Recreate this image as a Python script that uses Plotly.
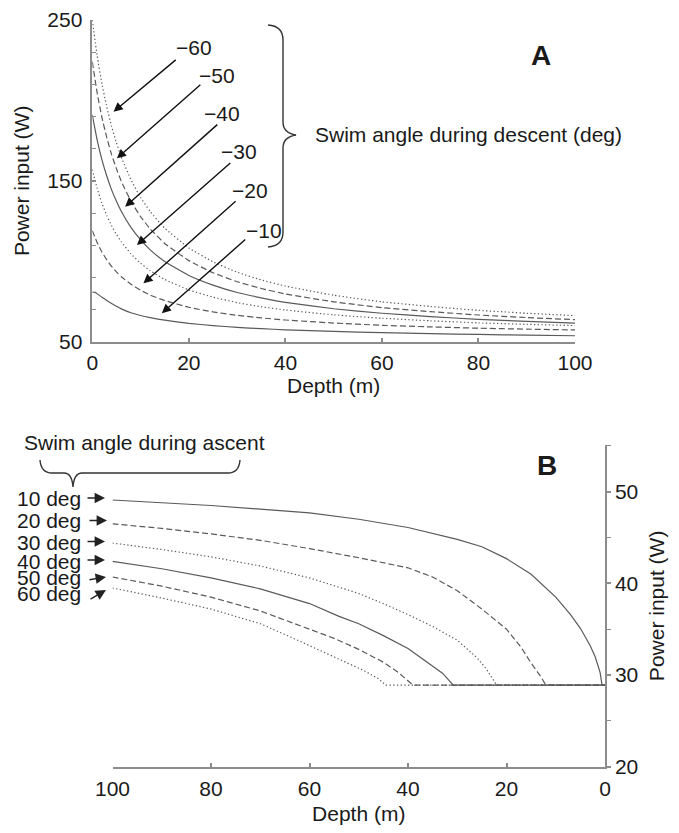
import plotly.graph_objects as go

# ---------------- Panel A data (descent) ----------------
depth_a = [0, 1, 2, 3, 4, 5, 6, 8, 10, 12, 15, 20, 25, 30, 35, 40, 50, 60, 70, 80, 90, 100]
power_m60 = [250, 227.9, 210.3, 196.0, 183.8, 173.7, 164.9, 150.7, 139.7, 130.9, 120.6, 108.3, 99.7, 93.2, 88.4, 84.6, 78.9, 74.8, 71.9, 69.5, 67.7, 66.2]
power_m50 = [224, 204.8, 189.4, 176.9, 166.3, 157.5, 149.8, 137.4, 127.8, 120.1, 111.1, 100.4, 92.9, 87.3, 83.1, 79.7, 74.8, 71.2, 68.7, 66.6, 65.0, 63.7]
power_m40 = [191, 175.5, 163.0, 153.0, 144.4, 137.3, 131.1, 121.1, 113.4, 107.1, 99.9, 91.2, 85.2, 80.6, 77.3, 74.5, 70.5, 67.7, 65.6, 63.9, 62.6, 61.6]
power_m30 = [157, 145.4, 136.0, 128.5, 122.1, 116.7, 112.1, 104.6, 98.8, 94.1, 88.7, 82.2, 77.7, 74.3, 71.7, 69.7, 66.7, 64.6, 63.0, 61.7, 60.8, 60.0]
power_m20 = [119, 111.6, 105.7, 100.9, 96.8, 93.4, 90.4, 85.7, 82.0, 79.0, 75.6, 71.4, 68.5, 66.4, 64.8, 63.5, 61.6, 60.2, 59.2, 58.4, 57.8, 57.3]
depth_a10 = [0, 0.6, 1, 2, 3, 4, 5, 6, 8, 10, 12, 15, 20, 25, 30, 35, 40, 50, 60, 70, 80, 90, 100]
power_m10 = [80.7, 80.7, 79.8, 77.6, 75.6, 73.8, 72.0, 70.4, 68.0, 66.3, 65.0, 63.4, 61.4, 60.0, 58.9, 58.1, 57.4, 56.4, 55.6, 55.0, 54.5, 54.1, 53.7]
descent_labels = ["\u221260", "\u221250", "\u221240", "\u221230", "\u221220", "\u221210"]

# ---------------- Panel B data (ascent) ----------------
depth_b10 = [100, 90, 80, 70, 60, 50, 40, 30, 25, 20, 15, 10, 7, 5, 3, 2, 1, 0.6, 0]
power_b10 = [49.1, 48.8, 48.5, 48.1, 47.7, 47.0, 46.1, 44.8, 44.0, 42.7, 41.0, 38.5, 36.6, 35.1, 33.2, 32.0, 30.3, 28.9, 28.9]
depth_b20 = [100, 90, 80, 70, 60, 50, 40, 35, 30, 25, 20, 17, 15, 13, 12, 0]
power_b20 = [46.5, 46.0, 45.4, 44.7, 43.8, 42.8, 41.7, 40.7, 39.2, 37.2, 35.0, 33.0, 31.3, 29.8, 28.9, 28.9]
depth_b30 = [100, 90, 80, 70, 60, 50, 45, 40, 35, 30, 26, 24, 22, 0]
power_b30 = [44.4, 43.7, 42.9, 41.9, 40.6, 38.9, 37.8, 36.6, 35.3, 33.8, 31.9, 30.6, 28.9, 28.9]
depth_b40 = [100, 90, 80, 70, 60, 54, 50, 45, 40, 36, 33, 30.8, 0]
power_b40 = [42.4, 41.6, 40.6, 39.4, 37.8, 36.4, 35.6, 34.3, 32.9, 31.4, 30.2, 28.9, 28.9]
depth_b50 = [100, 90, 80, 70, 62, 55, 50, 45, 42, 39, 0]
power_b50 = [40.7, 39.7, 38.5, 37.0, 35.4, 34.0, 32.8, 31.4, 30.3, 28.9, 28.9]
depth_b60 = [100, 90, 80, 70, 62, 54, 49, 46, 44.5, 0]
power_b60 = [39.5, 38.4, 37.2, 35.6, 33.7, 31.7, 30.5, 29.6, 28.9, 28.9]
ascent_labels = ["10 deg", "20 deg", "30 deg", "40 deg", "50 deg", "60 deg"]

W, H = 679, 833
FONT = "Liberation Sans, Arial, sans-serif"
FS = 21
LINE_C = "#5a5a5a"
AX_C = "#8c8c8c"
TXT_C = "#1a1a1a"
DOT = "1.3px,2.4px"
DASH = "6px,3px"


def px(x, y):
    return x / W, 1 - y / H


fig = go.Figure()

a_series = [
    (depth_a, power_m60, DOT),
    (depth_a, power_m50, DASH),
    (depth_a, power_m40, "solid"),
    (depth_a, power_m30, DOT),
    (depth_a, power_m20, DASH),
    (depth_a10, power_m10, "solid"),
]
for (xs, ys, dash), name in zip(a_series, descent_labels):
    fig.add_trace(go.Scatter(x=xs, y=ys, mode="lines", name=name, xaxis="x", yaxis="y",
                             line=dict(color=LINE_C, width=1.2, dash=dash, shape="spline", smoothing=0.4),
                             showlegend=False, hoverinfo="skip"))

b_series = [
    (depth_b10, power_b10, "solid"),
    (depth_b20, power_b20, DASH),
    (depth_b30, power_b30, DOT),
    (depth_b40, power_b40, "solid"),
    (depth_b50, power_b50, DASH),
    (depth_b60, power_b60, DOT),
]
for (xs, ys, dash), name in zip(b_series, ascent_labels):
    fig.add_trace(go.Scatter(x=xs, y=ys, mode="lines", name=name, xaxis="x2", yaxis="y2",
                             line=dict(color=LINE_C, width=1.2, dash=dash),
                             showlegend=False, hoverinfo="skip"))

axis_common = dict(showgrid=False, zeroline=False, showline=True, linecolor=AX_C, linewidth=1.5,
                   tickcolor=AX_C, tickwidth=1.5, tickfont=dict(family=FONT, size=FS, color=TXT_C),
                   automargin=False)

fig.update_layout(
    width=W, height=H, margin=dict(l=0, r=0, t=0, b=0),
    paper_bgcolor="white", plot_bgcolor="white",
    font=dict(family=FONT, color=TXT_C, size=FS),
    xaxis=dict(domain=[92.3 / W, 575 / W], range=[0, 100], anchor="y",
               tickmode="linear", tick0=0, dtick=20, ticks="inside", ticklen=4,
               ticklabelstandoff=1,
               title=dict(text="Depth (m)", standoff=4, font=dict(family=FONT, size=FS, color=TXT_C)),
               **axis_common),
    yaxis=dict(domain=[1 - 341.7 / H, 1 - 20 / H], range=[50, 250], anchor="x",
               tickmode="linear", tick0=50, dtick=100, ticks="inside", ticklen=4,
               minor=dict(dtick=20, tick0=50, ticks="inside", ticklen=4, tickcolor=AX_C, tickwidth=1.2),
               ticklabelstandoff=4,
               title=dict(text="Power input (W)", standoff=12, font=dict(family=FONT, size=FS, color=TXT_C)),
               **axis_common),
    xaxis2=dict(domain=[112.5 / W, 605 / W], range=[100, 0], anchor="y2",
                tickmode="linear", tick0=0, dtick=20, ticks="inside", ticklen=4,
                ticklabelstandoff=2,
                title=dict(text="Depth (m)", standoff=8, font=dict(family=FONT, size=FS, color=TXT_C)),
                **axis_common),
    yaxis2=dict(domain=[1 - 766.7 / H, 1 - 445 / H], range=[20, 55.1], anchor="x2", side="right",
                tickmode="linear", tick0=20, dtick=10, ticks="outside", ticklen=4,
                minor=dict(dtick=5, tick0=20, ticks="outside", ticklen=4, tickcolor=AX_C, tickwidth=1.2),
                ticklabelstandoff=0,
                title=dict(text="Power input (W)", standoff=12, font=dict(family=FONT, size=FS, color=TXT_C)),
                **axis_common),
)

annotations = []
# Panel A angle labels and arrows (data coordinates)
label_pos = [(21.0, 233.2), (25.8, 215.8), (26.9, 192.0), (30.3, 168.1), (32.7, 144.3), (35.5, 119.4)]
arrow_tail = [(17.6, 226.0), (22.7, 210.6), (26.2, 185.8), (28.9, 161.9), (30.0, 138.1), (32.0, 114.3)]
arrow_tip = [(4.4, 193.0), (5.1, 164.0), (6.8, 133.9), (9.25, 110.1), (10.6, 86.3), (14.4, 67.7)]
for lab, (lx, ly), (tx, ty), (hx, hy) in zip(descent_labels, label_pos, arrow_tail, arrow_tip):
    annotations.append(dict(x=lx, y=ly, xref="x", yref="y", text=lab, showarrow=False,
                            font=dict(family=FONT, size=FS, color=TXT_C)))
    annotations.append(dict(x=hx, y=hy, xref="x", yref="y", ax=tx, ay=ty, axref="x", ayref="y",
                            text="", showarrow=True, arrowhead=2, arrowsize=1.3, arrowwidth=1.4,
                            arrowcolor="#111111", standoff=0, startstandoff=0))

x0, y0 = px(313, 135)
annotations.append(dict(x=x0, y=y0, xref="paper", yref="paper", xanchor="left", yanchor="middle",
                        text="Swim angle during descent (deg)", showarrow=False,
                        font=dict(family=FONT, size=FS, color=TXT_C)))
x0, y0 = px(553, 38)
annotations.append(dict(x=x0, y=y0, xref="paper", yref="paper", text="<b>A</b>", showarrow=False,
                        font=dict(family=FONT, size=28, color=TXT_C)))
x0, y0 = px(559, 465)
annotations.append(dict(x=x0, y=y0, xref="paper", yref="paper", text="<b>B</b>", showarrow=False,
                        font=dict(family=FONT, size=28, color=TXT_C)))
x0, y0 = px(22, 442)
annotations.append(dict(x=x0, y=y0, xref="paper", yref="paper", xanchor="left", yanchor="middle",
                        text="Swim angle during ascent", showarrow=False,
                        font=dict(family=FONT, size=FS, color=TXT_C)))

# Panel B angle labels with small arrows (pixel positions -> paper)
label_y = [498, 520, 542, 561, 577, 593]
small_arrows = [((86, 498), (105, 498)), ((88, 520.5), (107, 520.5)), ((86, 541.5), (105, 541.5)),
                ((86, 560), (105, 560)), ((88, 580), (106, 577)), ((89, 600), (106, 590))]
for lab, ly, (tail, tip) in zip(ascent_labels, label_y, small_arrows):
    x0, y0 = px(15, ly)
    annotations.append(dict(x=x0, y=y0, xref="paper", yref="paper", xanchor="left", yanchor="middle",
                            text=lab, showarrow=False, font=dict(family=FONT, size=FS, color=TXT_C)))
    hx, hy = px(*tip)
    annotations.append(dict(x=hx, y=hy, xref="paper", yref="paper",
                            ax=tail[0] - tip[0], ay=tail[1] - tip[1],
                            text="", showarrow=True, arrowhead=2, arrowsize=1.6, arrowwidth=1.3,
                            arrowcolor="#222222", standoff=0, startstandoff=0))

fig.update_layout(annotations=annotations)


def path_px(cmds):
    out = []
    for c in cmds:
        if isinstance(c, str):
            out.append(c)
        else:
            x, y = px(*c)
            out.append(f"{x:.5f},{y:.5f}")
    return " ".join(out)


brace_a = path_px(["M", (268, 25), "Q", (283, 26), (283, 40), "L", (283, 122), "Q", (283, 133), (296, 135),
                   "Q", (283, 137), (283, 148), "L", (283, 232), "Q", (283, 246), (268, 247)])
brace_b = path_px(["M", (40, 460), "Q", (41, 473), (52, 473), "L", (64, 473), "Q", (72, 473), (73, 487),
                   "Q", (74, 473), (82, 473), "L", (228, 473), "Q", (239, 473), (240, 460)])
fig.update_layout(shapes=[
    dict(type="path", path=brace_a, xref="paper", yref="paper", line=dict(color="#333333", width=1.4)),
    dict(type="path", path=brace_b, xref="paper", yref="paper", line=dict(color="#333333", width=1.4)),
])

fig.write_html("out.html")
